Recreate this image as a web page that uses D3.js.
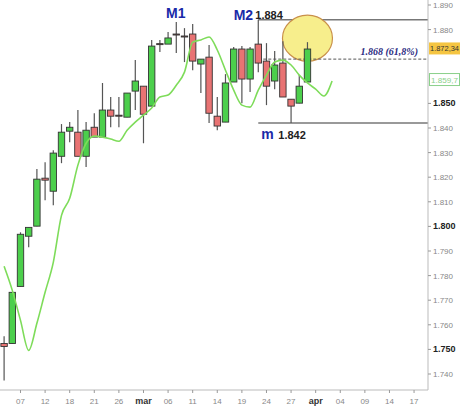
<!DOCTYPE html>
<html>
<head>
<meta charset="utf-8">
<script src="https://cdn.jsdelivr.net/npm/d3@7"></script>
<style>
  body { margin: 0; background: #fff; }
  svg { display: block; font-family: Arial, "Liberation Sans", sans-serif; }
</style>
</head>
<body>
<svg id="chart" width="460" height="408"></svg>
<script>
// candles: open, high, low, close
var opens  = [1.7524,1.7524,1.7756,1.7960,1.8001,1.8196,1.8143,1.8285,1.8387,1.8383,1.8285,1.8403,1.8363,1.8473,1.8452,1.8444,1.8550,1.8570,1.8489,1.8743,1.8741,1.8782,1.8774,1.8782,1.8660,1.8688,1.8448,1.8424,1.8587,1.8721,1.8599,1.8741,1.8672,1.8591,1.8664,1.8517,1.8501,1.8587];
var highs  = [1.7553,1.7732,1.7976,1.7996,1.8233,1.8261,1.8310,1.8416,1.8424,1.8473,1.8424,1.8460,1.8583,1.8526,1.8526,1.8542,1.8676,1.8570,1.8758,1.8758,1.8790,1.8831,1.8806,1.8823,1.8680,1.8737,1.8526,1.8619,1.8729,1.8733,1.8729,1.8840,1.8745,1.8713,1.8753,1.8517,1.8615,1.8749];
var lows   = [1.7374,1.7524,1.7756,1.7915,1.8001,1.8106,1.8086,1.8257,1.8342,1.8285,1.8241,1.8363,1.8363,1.8403,1.8403,1.8444,1.8473,1.8338,1.8489,1.8709,1.8741,1.8705,1.8668,1.8635,1.8542,1.8420,1.8391,1.8424,1.8587,1.8501,1.8546,1.8627,1.8493,1.8558,1.8526,1.8420,1.8501,1.8587];
var closes = [1.7512,1.7732,1.7968,1.7996,1.8192,1.8188,1.8298,1.8383,1.8403,1.8285,1.8391,1.8363,1.8473,1.8448,1.8448,1.8542,1.8591,1.8456,1.8733,1.8739,1.8766,1.8780,1.8770,1.8672,1.8680,1.8460,1.8408,1.8583,1.8721,1.8599,1.8721,1.8664,1.8570,1.8656,1.8526,1.8489,1.8570,1.8721];

// moving average (extends a few sessions past the last candle)
var movingAvg = [1.7838,1.7740,1.7618,1.7496,1.7606,1.7732,1.7854,1.8045,1.8114,1.8249,1.8338,1.8367,1.8363,1.8355,1.8346,1.8391,1.8424,1.8452,1.8481,1.8526,1.8534,1.8574,1.8627,1.8749,1.8758,1.8770,1.8717,1.8635,1.8554,1.8493,1.8485,1.8554,1.8615,1.8668,1.8676,1.8656,1.8615,1.8583,1.8558,1.8530,1.8591];

var tickIndex  = [2,5,8,11,14,17,20,23,26,29,32,35,38,41,44,47,50];
var tickLabels = ["07","12","18","21","26","mar","06","11","14","19","24","27","apr","04","09","14","17"];
// 1.860 and 1.870 sit under the price tags
var priceTicks = [1.740,1.750,1.760,1.770,1.780,1.790,1.800,1.810,1.820,1.830,1.840,1.850,1.880,1.890];
var boldTicks  = [1.750,1.800,1.850];

var M2 = 1.884, mLow = 1.842, fib = 1.868;
var lastPrice = 1.87234, lastAvg = 1.8597;

var svg = d3.select("#chart");
var axisX = 428, axisY = 390;

var x = d3.scaleLinear().domain([-0.5, 51.7]).range([0, axisX]);
var y = d3.scaleLinear().domain([1.740, 1.890]).range([374, 5]);

// horizontal reference lines
svg.append("line").attr("x1", x(31)).attr("x2", axisX)
  .attr("y1", y(M2)).attr("y2", y(M2)).attr("stroke", "#777").attr("stroke-width", 1.5);
svg.append("line").attr("x1", x(31)).attr("x2", axisX)
  .attr("y1", y(mLow)).attr("y2", y(mLow)).attr("stroke", "#777").attr("stroke-width", 1.5);

// highlight ellipse
svg.append("ellipse").attr("cx", x(37)).attr("cy", y(1.8765))
  .attr("rx", 25).attr("ry", 23)
  .attr("fill", "#f7ee8c").attr("stroke", "#c9904a").attr("stroke-width", 1.2);

svg.append("line").attr("x1", x(31)).attr("x2", axisX)
  .attr("y1", y(fib)).attr("y2", y(fib))
  .attr("stroke", "#555").attr("stroke-dasharray", "3,2");

// candles
var candles = opens.map(function(o, i) {
  return {i: i, o: o, h: highs[i], l: lows[i], c: closes[i]};
});

var g = svg.append("g");
g.selectAll(".wick").data(candles).enter().append("line")
  .attr("x1", function(d) { return x(d.i); })
  .attr("x2", function(d) { return x(d.i); })
  .attr("y1", function(d) { return y(d.h); })
  .attr("y2", function(d) { return y(d.l); })
  .attr("stroke", "#555").attr("stroke-width", 1.2);

g.selectAll(".body").data(candles).enter().append("rect")
  .attr("x", function(d) { return x(d.i) - 3.2; })
  .attr("width", 6.4)
  .attr("y", function(d) { return y(Math.max(d.o, d.c)); })
  .attr("height", function(d) { return Math.max(1, Math.abs(y(d.o) - y(d.c))); })
  .attr("fill", function(d) { return d.c >= d.o ? "#4ccf4c" : "#e87373"; })
  .attr("stroke", "#333").attr("stroke-width", 0.9);

// moving average line
var line = d3.line()
  .curve(d3.curveMonotoneX)
  .x(function(d, i) { return x(i); })
  .y(function(d) { return y(d); });
svg.append("path").datum(movingAvg).attr("d", line)
  .attr("fill", "none").attr("stroke", "#7edc5a").attr("stroke-width", 1.6);

// axes
svg.append("line").attr("x1", axisX).attr("x2", axisX).attr("y1", 0).attr("y2", axisY)
  .attr("stroke", "#bbb");
svg.append("line").attr("x1", 0).attr("x2", axisX).attr("y1", axisY).attr("y2", axisY)
  .attr("stroke", "#bbb");

priceTicks.forEach(function(p) {
  var bold = boldTicks.indexOf(p) >= 0;
  svg.append("line").attr("x1", axisX).attr("x2", axisX + 3)
    .attr("y1", y(p)).attr("y2", y(p)).attr("stroke", "#999");
  svg.append("text").attr("x", axisX + 5).attr("y", y(p) + 3)
    .attr("font-size", bold ? 9 : 8)
    .attr("font-weight", bold ? "bold" : "normal")
    .attr("fill", bold ? "#222" : "#888")
    .text(p.toFixed(3));
});

tickIndex.forEach(function(t, k) {
  var bold = tickLabels[k] == "mar" || tickLabels[k] == "apr";
  svg.append("line").attr("x1", x(t)).attr("x2", x(t))
    .attr("y1", axisY).attr("y2", axisY + 3).attr("stroke", "#999");
  svg.append("text").attr("x", x(t)).attr("y", 404)
    .attr("text-anchor", "middle")
    .attr("font-size", bold ? 9 : 8)
    .attr("font-weight", bold ? "bold" : "normal")
    .attr("fill", bold ? "#333" : "#888")
    .text(tickLabels[k]);
});

// price tags
svg.append("rect").attr("x", axisX + 1).attr("y", y(lastPrice) - 6)
  .attr("width", 31).attr("height", 12).attr("fill", "#f5c542");
svg.append("text").attr("x", axisX + 2).attr("y", y(lastPrice) + 3)
  .attr("font-size", 8).attr("fill", "#333")
  .attr("textLength", 29).attr("lengthAdjust", "spacingAndGlyphs").text("1.872,34");
svg.append("rect").attr("x", axisX + 1.5).attr("y", y(lastAvg) - 6)
  .attr("width", 30).attr("height", 12)
  .attr("fill", "#fff").attr("stroke", "#8ad08a");
svg.append("text").attr("x", axisX + 3).attr("y", y(lastAvg) + 3)
  .attr("font-size", 8).attr("fill", "#8ad08a")
  .attr("textLength", 27).attr("lengthAdjust", "spacingAndGlyphs").text("1.859,7");

// annotations
function label(px, py, txt, color, size) {
  svg.append("text").attr("x", px).attr("y", py)
    .attr("font-size", size).attr("font-weight", "bold")
    .attr("fill", color).text(txt);
}
label(x(20) - 2, 18, "M1", "#1a2aa8", 14);
label(x(28) + 0, 20, "M2", "#1a2aa8", 14);
label(x(31) - 3, 19, "1.884", "#222", 11);
label(x(31) + 3, 139, "m", "#1a2aa8", 14);
label(x(31) + 20, 139, "1.842", "#222", 11);

svg.append("text").attr("x", 418).attr("y", y(fib) - 4)
  .attr("text-anchor", "end")
  .attr("font-family", "'Liberation Serif', 'DejaVu Serif', serif")
  .attr("font-style", "italic").attr("font-weight", "bold")
  .attr("font-size", 10).attr("fill", "#2a2a80")
  .text("1.868 (61,8%)");
</script>
</body>
</html>
